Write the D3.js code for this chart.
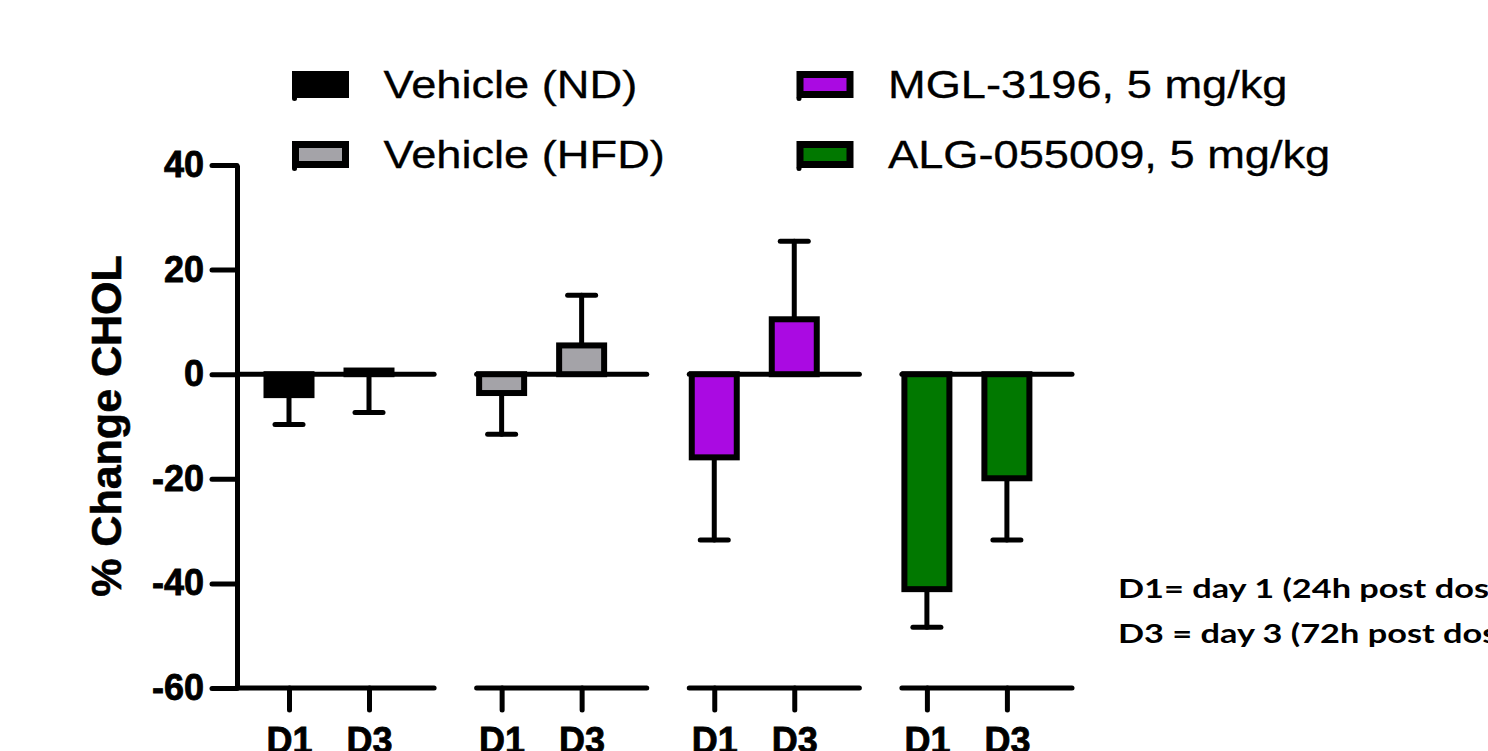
<!DOCTYPE html>
<html>
<head>
<meta charset="utf-8">
<script src="https://cdn.jsdelivr.net/npm/d3@7"></script>
<style>
  html, body { margin: 0; padding: 0; background: #fff; }
  svg { display: block; }
  text { font-family: "Liberation Sans", Arial, sans-serif; fill: #000; }
</style>
</head>
<body>
<svg id="chart" width="1488" height="751"></svg>
<script>
// ---- data ----
const groups  = ['Vehicle (ND)', 'Vehicle (HFD)', 'MGL-3196, 5 mg/kg', 'ALG-055009, 5 mg/kg'];
const days    = ['D1', 'D3'];
const fills   = ['#000000', '#a4a3a8', '#aa0ae2', '#017800'];
const meanD1  = [-4.0, -3.6, -15.9, -41.1];
const meanD3  = [0.7, 5.5, 10.5, -19.9];
// signed SEM: the sign says which way the whisker is drawn
const errD1   = [-5.6, -7.9, -15.8, -7.3];
const errD3   = [-8.0, 9.6, 14.9, -11.8];
const yTicks  = [-60, -40, -20, 0, 20, 40];
const yTitle  = '% Change CHOL';
const notes   = ['D1= day 1 (24h post dose)', 'D3 = day 3 (72h post dose)'];

const svg = d3.select('#chart');
const axisX = 237;

const y = d3.scaleLinear().domain([-60, 40]).range([688, 165]);

const gx = d3.scaleBand()
    .domain(groups)
    .range([264, 1072])
    .paddingInner(0.2);

const dx = d3.scalePoint().domain(days).range([25, 105]);

const color = d3.scaleOrdinal().domain(groups).range(fills);

const bars = [];
groups.forEach((g, i) => {
    bars.push({ group: g, day: 'D1', mean: meanD1[i], err: errD1[i] });
    bars.push({ group: g, day: 'D3', mean: meanD3[i], err: errD3[i] });
});
const cx = d => gx(d.group) + dx(d.day);

// heavy bold labels, like the Prism export
const boldLabel = sel => sel
    .style('font-family', '"Liberation Sans", Arial, sans-serif')
    .style('font-size', '36px').style('font-weight', 'bold')
    .attr('fill', '#000').attr('stroke', '#000').attr('stroke-width', 0.8);

// ---- y axis ----
const yAxis = svg.append('g')
    .attr('transform', `translate(${axisX},0)`)
    .call(d3.axisLeft(y).tickValues(yTicks).tickFormat(d => String(d))
        .tickSize(25).tickSizeOuter(0).tickPadding(8));
yAxis.select('.domain').attr('stroke', '#000').attr('stroke-width', 5);
yAxis.selectAll('.tick line').attr('stroke', '#000').attr('stroke-width', 5).attr('stroke-linecap', 'round');
yAxis.selectAll('.tick text').call(boldLabel);

svg.append('text')
    .attr('transform', `translate(121,426) rotate(-90)`)
    .attr('text-anchor', 'middle')
    .attr('stroke', '#000').attr('stroke-width', 0.6)
    .style('font-size', '43px').style('font-weight', 'bold')
    .text(yTitle);

// ---- per-group baseline, zero line and D1/D3 ticks ----
groups.forEach((g, i) => {
    const x0 = i === 0 ? axisX : gx(g);
    const x1 = gx(g) + gx.bandwidth();
    svg.append('line')
        .attr('x1', x0).attr('x2', x1).attr('y1', y(0)).attr('y2', y(0))
        .attr('stroke', '#000').attr('stroke-width', 5).attr('stroke-linecap', 'round');
    svg.append('line')
        .attr('x1', x0).attr('x2', x1).attr('y1', y(-60)).attr('y2', y(-60))
        .attr('stroke', '#000').attr('stroke-width', 5).attr('stroke-linecap', 'round');

    const ax = svg.append('g')
        .attr('transform', `translate(${gx(g)},${y(-60)})`)
        .call(d3.axisBottom(dx).tickSize(22).tickSizeOuter(0).tickPadding(17));
    ax.select('.domain').remove();
    ax.selectAll('.tick line').attr('stroke', '#000').attr('stroke-width', 5).attr('stroke-linecap', 'round');
    ax.selectAll('.tick text').call(boldLabel);
});

// ---- error bars (behind the bars) ----
const eb = svg.append('g').attr('stroke', '#000').attr('stroke-width', 5).attr('stroke-linecap', 'round');
eb.selectAll('.whisker').data(bars).join('line')
    .attr('class', 'whisker')
    .attr('x1', cx).attr('x2', cx)
    .attr('y1', d => y(d.mean)).attr('y2', d => y(d.mean + d.err));
eb.selectAll('.cap').data(bars).join('line')
    .attr('class', 'cap')
    .attr('x1', d => cx(d) - 14).attr('x2', d => cx(d) + 14)
    .attr('y1', d => y(d.mean + d.err)).attr('y2', d => y(d.mean + d.err));

// ---- bars ----
svg.append('g').selectAll('rect').data(bars).join('rect')
    .attr('x', d => cx(d) - 22.5)
    .attr('width', 45)
    .attr('y', d => Math.min(y(0), y(d.mean)))
    .attr('height', d => Math.abs(y(d.mean) - y(0)))
    .attr('fill', d => color(d.group))
    .attr('stroke', '#000')
    .attr('stroke-width', 6);

// ---- legend ----
const legend = svg.append('g').selectAll('g').data(groups).join('g')
    .attr('transform', (d, i) => `translate(${i < 2 ? 295.5 : 800},${74.5 + (i % 2) * 70})`);
legend.append('rect')
    .attr('width', 50).attr('height', 20)
    .attr('fill', d => color(d))
    .attr('stroke', '#000').attr('stroke-width', 7);
legend.append('circle')
    .attr('cx', -1).attr('cy', 24).attr('r', 2.5).attr('fill', '#000');
legend.append('text')
    .attr('transform', 'translate(88,23.5) scale(1.19,1)')
    .attr('stroke', '#000').attr('stroke-width', 0.3)
    .style('font-size', '38px')
    .text(d => d);

// ---- footnote ----
svg.append('g').selectAll('text').data(notes).join('text')
    .attr('transform', (d, i) => `translate(1118,${598 + i * 45}) scale(1.32,1)`)
    .style('font-family', 'Lato, "Open Sans", sans-serif')
    .style('font-size', '26px').style('font-weight', 'bold')
    .text(d => d);
</script>
</body>
</html>
